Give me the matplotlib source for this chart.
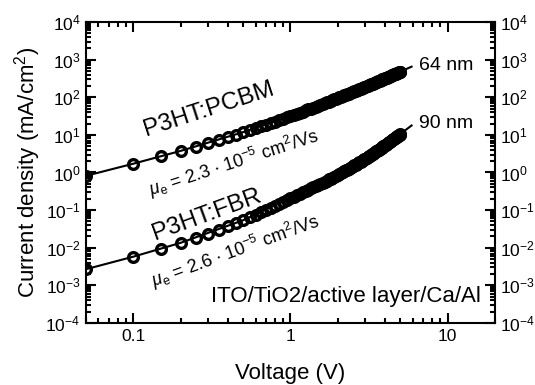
import numpy as np
import matplotlib
matplotlib.use('Agg')
import matplotlib.pyplot as plt
from matplotlib.ticker import LogLocator, NullFormatter, FixedLocator, FixedFormatter

# voltage steps of the measured points (V)
volts = [0.05, 0.10, 0.15, 0.20, 0.25, 0.30, 0.35, 0.40, 0.45, 0.50,
         0.55, 0.60, 0.65, 0.70, 0.75, 0.80, 0.85, 0.90, 0.95, 1.00,
         1.05, 1.10, 1.15, 1.20, 1.25, 1.30, 1.35, 1.40, 1.45, 1.50,
         1.55, 1.60, 1.65, 1.70, 1.75, 1.80, 1.85, 1.90, 1.95, 2.00,
         2.05, 2.10, 2.15, 2.20, 2.25, 2.30, 2.35, 2.40, 2.45, 2.50,
         2.55, 2.60, 2.65, 2.70, 2.75, 2.80, 2.85, 2.90, 2.95, 3.00,
         3.05, 3.10, 3.15, 3.20, 3.25, 3.30, 3.35, 3.40, 3.45, 3.50,
         3.55, 3.60, 3.65, 3.70, 3.75, 3.80, 3.85, 3.90, 3.95, 4.00,
         4.05, 4.10, 4.15, 4.20, 4.25, 4.30, 4.35, 4.40, 4.45, 4.50,
         4.55, 4.60, 4.65, 4.70, 4.75, 4.80, 4.85, 4.90, 4.95, 5.00]

# P3HT:PCBM, 64 nm (mA/cm2)
j_pcbm = [0.815, 1.71, 2.69, 3.74, 4.88, 6.09, 7.39, 8.76, 10.2, 11.8,
          13.4, 15.1, 16.8, 18.7, 20.6, 22.6, 24.7, 26.9, 29.2, 31.5,
          33.9, 36.4, 39.0, 41.6, 44.4, 47.2, 50.1, 53.1, 56.1, 59.3,
          62.5, 65.8, 69.1, 72.6, 76.1, 79.7, 83.4, 87.2, 91.1, 95.0,
          99.0, 103, 107, 112, 116, 120, 125, 129, 134, 139,
          144, 148, 153, 158, 164, 169, 174, 180, 185, 191,
          196, 202, 208, 213, 219, 225, 231, 238, 244, 250,
          257, 263, 270, 276, 283, 290, 297, 304, 311, 318,
          325, 333, 340, 347, 355, 362, 370, 378, 386, 394,
          402, 410, 418, 426, 435, 443, 452, 460, 469, 478]

# P3HT:FBR, 90 nm (mA/cm2)
j_fbr = [0.00269, 0.00579, 0.00938, 0.0135, 0.0183, 0.0237, 0.0299, 0.0370, 0.0449, 0.0538,
         0.0637, 0.0746, 0.0868, 0.100, 0.115, 0.131, 0.148, 0.167, 0.188, 0.210,
         0.230, 0.252, 0.275, 0.299, 0.324, 0.351, 0.379, 0.408, 0.438, 0.470,
         0.503, 0.538, 0.574, 0.612, 0.651, 0.691, 0.733, 0.777, 0.822, 0.870,
         0.918, 0.969, 1.02, 1.08, 1.14, 1.20, 1.26, 1.33, 1.39, 1.47,
         1.54, 1.62, 1.70, 1.78, 1.87, 1.95, 2.05, 2.14, 2.24, 2.35,
         2.46, 2.57, 2.68, 2.80, 2.93, 3.05, 3.18, 3.32, 3.46, 3.61,
         3.76, 3.91, 4.07, 4.23, 4.40, 4.58, 4.76, 4.94, 5.13, 5.33,
         5.53, 5.74, 5.96, 6.18, 6.40, 6.63, 6.87, 7.11, 7.36, 7.61,
         7.88, 8.14, 8.42, 8.70, 8.99, 9.28, 9.58, 9.89, 10.2, 10.5]

# SCLC fit curves
fit_v = [0.05, 0.1, 0.2, 0.5, 1.0, 1.5, 2.0, 2.5, 3.0, 3.5, 4.0, 4.5, 5.0, 5.9]
fit_pcbm = [0.815, 1.71, 3.74, 11.8, 31.5, 59.3, 95.0, 139, 191, 250, 318, 394, 478, 648]
fit_fbr = [0.00269, 0.00579, 0.0135, 0.0538, 0.210, 0.470, 0.870, 1.47, 2.35,
           3.61, 5.33, 7.61, 10.5, 17.7]

xticks = [0.1, 1, 10]
xticklabels = ['0.1', '1', '10']


def main():
    plt.rcParams['font.family'] = ['Liberation Sans', 'DejaVu Sans']
    plt.rcParams['mathtext.fontset'] = 'custom'
    plt.rcParams['mathtext.rm'] = 'Liberation Sans'
    plt.rcParams['mathtext.it'] = 'Liberation Sans:italic'
    plt.rcParams['mathtext.default'] = 'regular'

    fig = plt.figure(figsize=(5.35, 3.85), dpi=100)
    ax = fig.add_axes([0.1607, 0.161, 0.7643, 0.782])

    ax.plot(fit_v, fit_pcbm, '-', color='black', lw=1.5, zorder=2)
    ax.plot(fit_v, fit_fbr, '-', color='black', lw=1.5, zorder=2)
    ax.plot(volts, j_pcbm, 'o', mfc='none', mec='black', ms=7, mew=2.4, zorder=3)
    ax.plot(volts, j_fbr, 'o', mfc='none', mec='black', ms=7, mew=2.4, zorder=3)

    ax.set_xscale('log')
    ax.set_yscale('log')
    ax.set_xlim(0.05, 20)
    ax.set_ylim(1e-4, 1e4)

    ax.xaxis.set_major_locator(FixedLocator(xticks))
    ax.xaxis.set_major_formatter(FixedFormatter(xticklabels))
    ax.xaxis.set_minor_locator(LogLocator(base=10, subs=np.arange(2, 10), numticks=20))
    ax.xaxis.set_minor_formatter(NullFormatter())
    ax.yaxis.set_major_locator(LogLocator(base=10, numticks=20))
    ax.yaxis.set_minor_locator(LogLocator(base=10, subs=np.arange(2, 10), numticks=20))
    ax.yaxis.set_minor_formatter(NullFormatter())

    ax.tick_params(which='both', direction='in', top=True, right=True,
                   labelright=True, width=1.5, labelsize=12.5)
    ax.tick_params(which='major', length=7, pad=4)
    ax.tick_params(which='minor', length=3.5)
    for sp in ax.spines.values():
        sp.set_linewidth(1.5)

    ax.set_xlabel('Voltage (V)', fontsize=16, labelpad=14)
    ax.set_ylabel('Current density (mA/cm$^{2}$)', fontsize=16, labelpad=2)

    ax.text(5.9 * 1.12, 700, '64 nm', fontsize=14, ha='left', va='center')
    ax.text(5.9 * 1.12, 20, '90 nm', fontsize=14, ha='left', va='center')

    ax.text(0.124, 6.8, 'P3HT:PCBM', fontsize=17.5, rotation=18,
            ha='left', va='bottom', rotation_mode='anchor')
    ax.text(0.134, 0.16, r'$\mathit{\mu}_e$ = 2.3 $\cdot$ 10$^{-5}$ cm$^{2}$/Vs', fontsize=13,
            rotation=18, ha='left', va='bottom', rotation_mode='anchor')
    ax.text(0.14, 0.0118, 'P3HT:FBR', fontsize=17.5, rotation=20,
            ha='left', va='bottom', rotation_mode='anchor')
    ax.text(0.14, 0.00062, r'$\mathit{\mu}_e$ = 2.6 $\cdot$ 10$^{-5}$ cm$^{2}$/Vs', fontsize=13,
            rotation=20, ha='left', va='bottom', rotation_mode='anchor')
    ax.text(16.2, 5e-4, 'ITO/TiO2/active layer/Ca/Al', fontsize=16,
            ha='right', va='center')

    plt.savefig('out.png', dpi=100)


if __name__ == "__main__":
    main()
